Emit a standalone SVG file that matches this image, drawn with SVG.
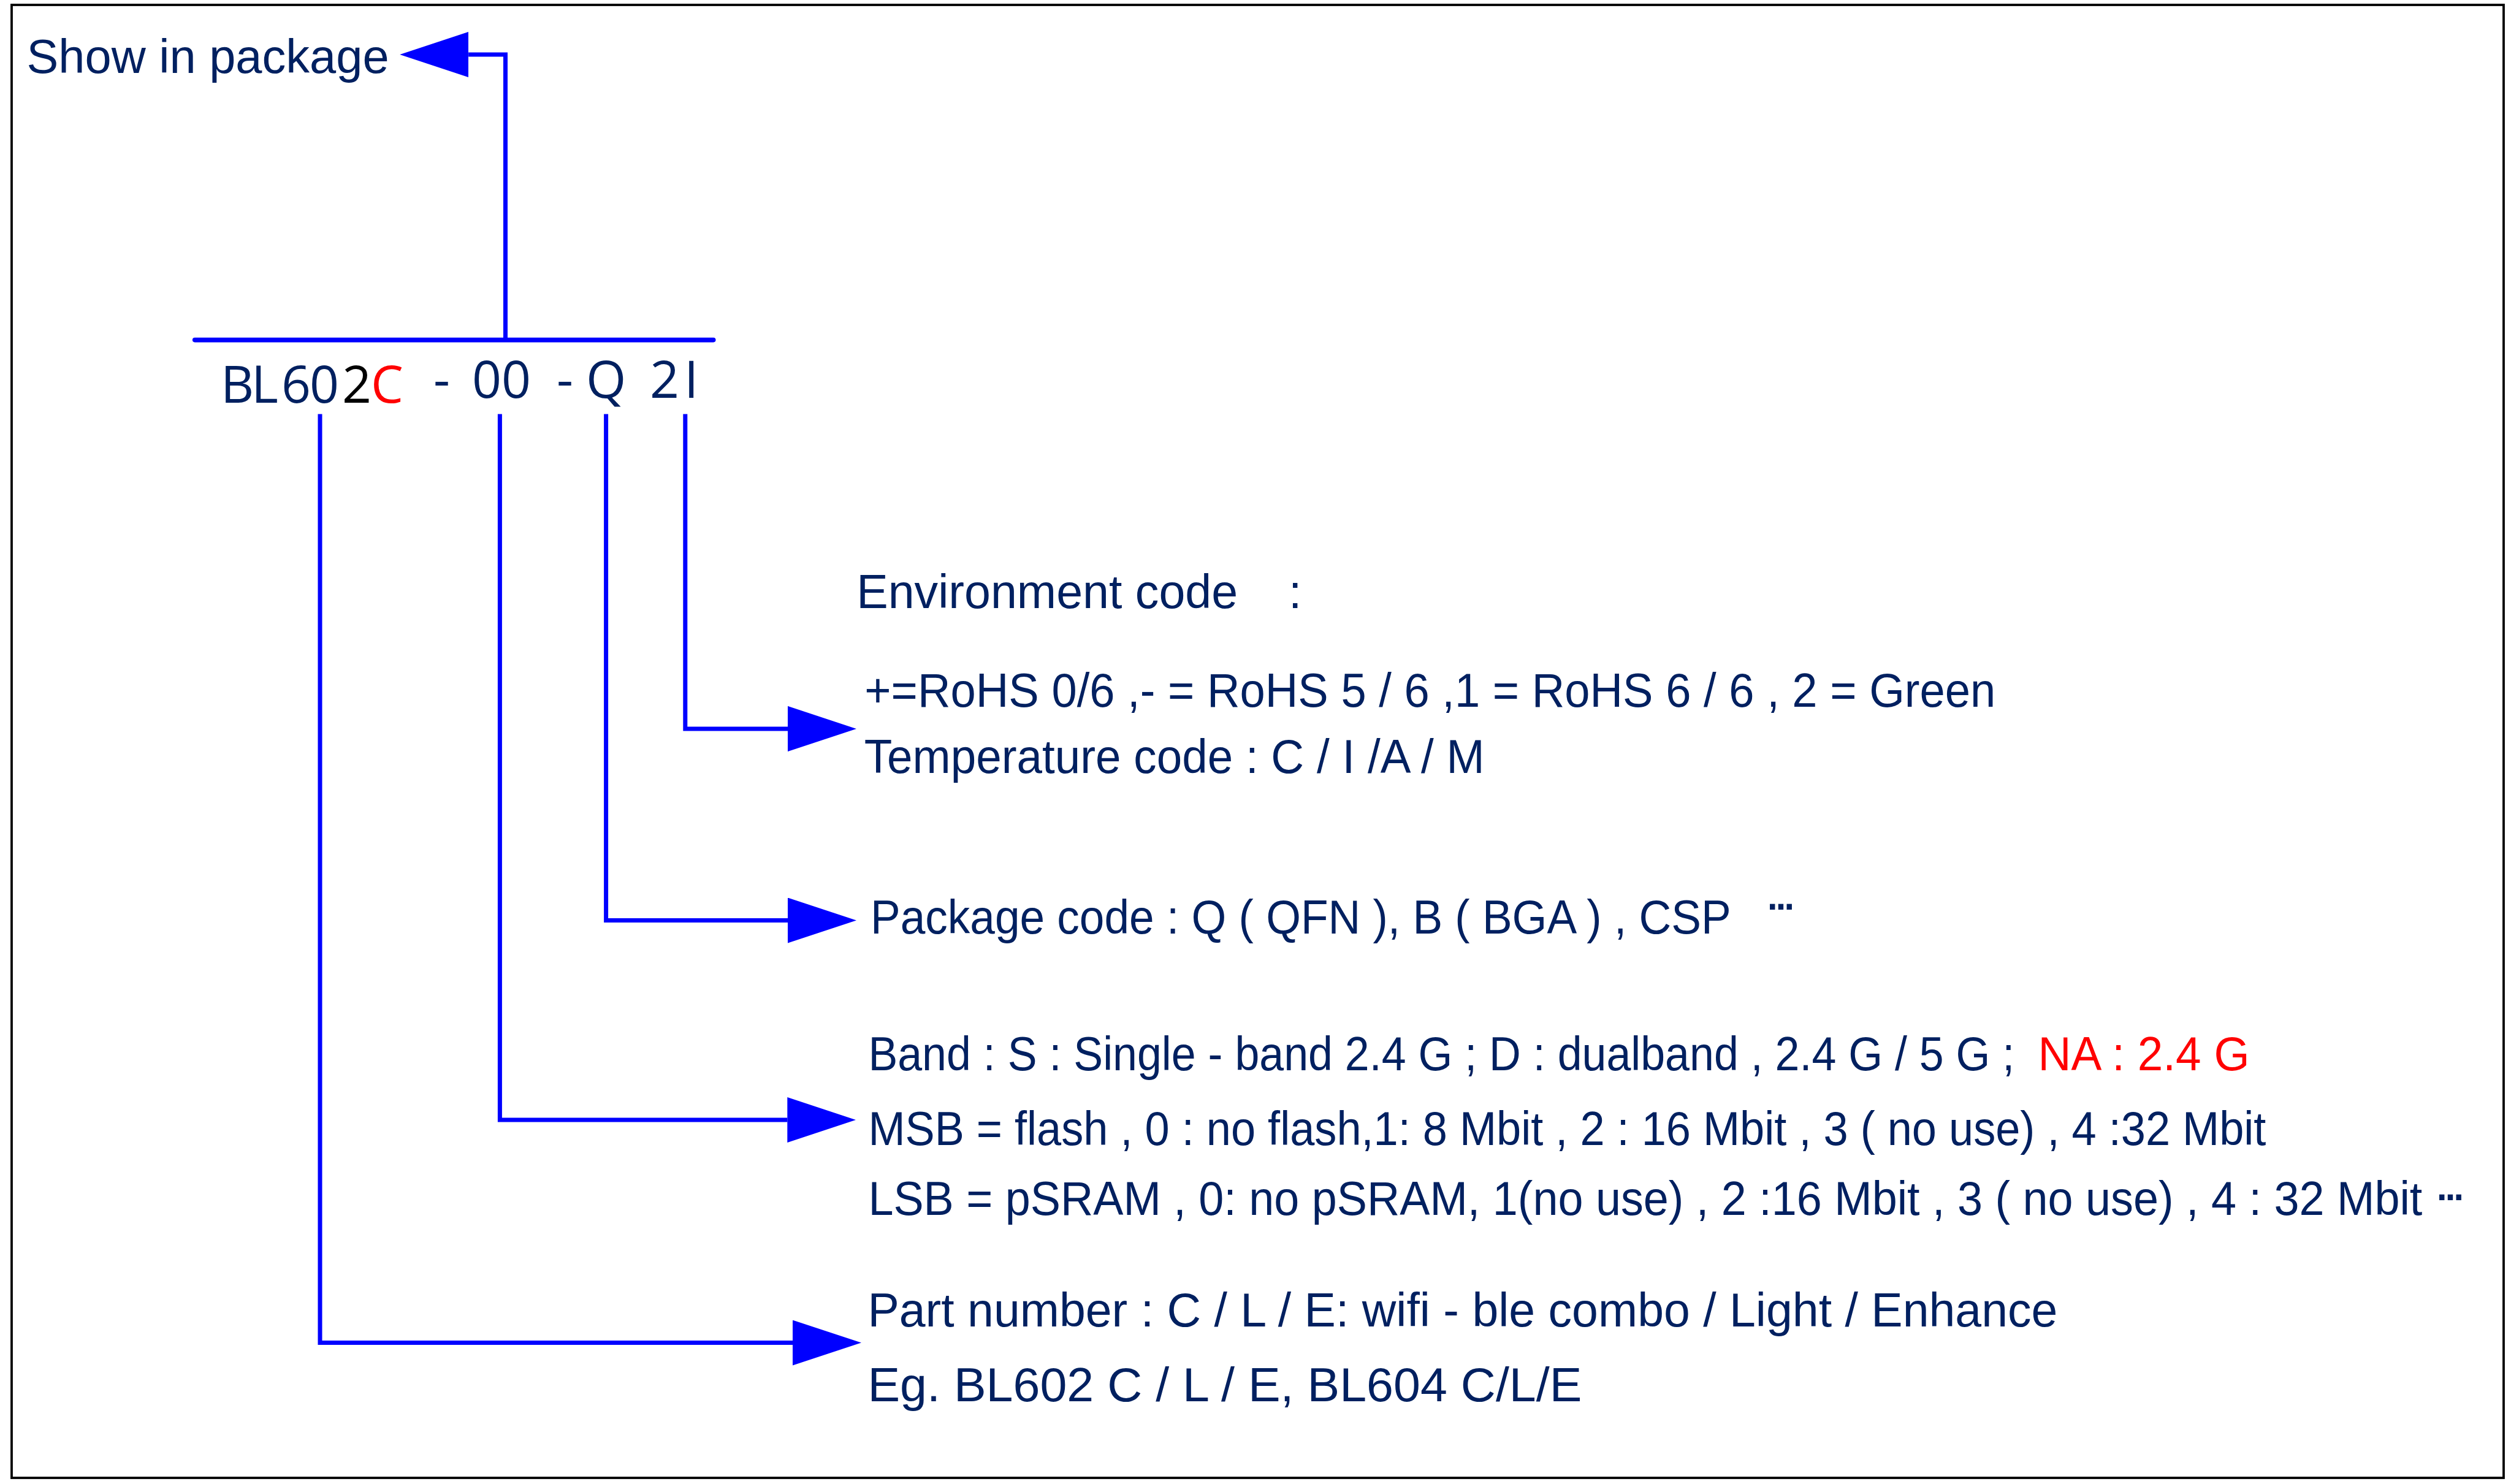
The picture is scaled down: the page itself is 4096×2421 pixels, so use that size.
<svg xmlns="http://www.w3.org/2000/svg" width="4096" height="2421" viewBox="0 0 4096 2421">
<style>
.t { font-family: "Liberation Sans", Arial, sans-serif; font-size: 77px; fill: #002060; }
.dots { font-family: "Liberation Sans", Arial, sans-serif; font-size: 88px; fill: #002060; letter-spacing: -10.7px; }
.code { font-family: "Open Sans", "Noto Sans", sans-serif; font-size: 84px; fill: #002060; }
.ln { stroke: #0000FF; stroke-width: 7; fill: none; stroke-linejoin: miter; }
.red { fill: #FF0000; }
.blk { fill: #000000; }
</style>
<defs>
<marker id="arr" markerUnits="userSpaceOnUse" markerWidth="112" markerHeight="74" refX="0" refY="37" orient="auto">
<path d="M0,0 L112,37 L0,74 z" fill="#0000FF"/>
</marker>
</defs>
<rect x="0" y="0" width="4096" height="2421" fill="#FFFFFF"/>
<rect x="19" y="8" width="4065" height="2403" fill="none" stroke="#000000" stroke-width="3.8"/>

<g id="connectors">
<line x1="317.7" y1="554.6" x2="1163.7" y2="554.6" stroke="#0000FF" stroke-width="7.6" stroke-linecap="round"/>
<path class="ln" d="M824.5 554.6 V89 H764.2" marker-end="url(#arr)"/>
<path class="ln" d="M522 675.6 V2190.6 H1293" marker-end="url(#arr)"/>
<path class="ln" d="M815.4 675.6 V1827 H1284.3" marker-end="url(#arr)"/>
<path class="ln" d="M988.6 675.6 V1501.5 H1285" marker-end="url(#arr)"/>
<path class="ln" d="M1117.8 675.6 V1188.9 H1285" marker-end="url(#arr)"/>
</g>

<g id="show-in-package">
<text class="t" x="43.6" y="118.7" textLength="591" lengthAdjust="spacingAndGlyphs">Show in package</text>
</g>

<g id="part-code">
<text class="code" y="656.5"><tspan x="360">B</tspan><tspan x="410">L</tspan><tspan x="459">6</tspan><tspan x="505">0</tspan><tspan x="558" class="blk">2</tspan><tspan x="605" class="red">C</tspan><tspan x="707" y="649">-</tspan><tspan x="770" y="649">0</tspan><tspan x="818" y="649">0</tspan><tspan x="908" y="649">-</tspan><tspan x="956" y="649">Q</tspan><tspan x="1060" y="649">2</tspan><tspan x="1116" y="649">I</tspan></text>
</g>

<g id="environment">
<text class="t" y="992.1"><tspan x="1397.2" textLength="622" lengthAdjust="spacingAndGlyphs">Environment code</tspan><tspan x="2102">:</tspan></text>
<text class="t" x="1410.3" y="1153.2" textLength="1845" lengthAdjust="spacingAndGlyphs">+=RoHS 0/6 ,- = RoHS 5 / 6 ,1 = RoHS 6 / 6 , 2 = Green</text>
<text class="t" x="1409.7" y="1261" textLength="1012" lengthAdjust="spacingAndGlyphs">Temperature code : C / I /A / M</text>
</g>

<g id="package">
<text class="t" transform="translate(1420,1523.3) scale(0.932,1)" x="0" y="0" textLength="1506" lengthAdjust="spacingAndGlyphs">Package code : Q ( QFN ),  B ( BGA ) , CSP</text>
<text class="dots" x="2879" y="1483.8">...</text>
</g>

<g id="band">
<text class="t" transform="translate(1416.4,1745.6) scale(0.922,1)" x="0" y="0" textLength="2028" lengthAdjust="spacingAndGlyphs">Band : S : Single - band 2.4 G ; D : dualband , 2.4 G / 5 G ;</text>
<text class="t red" x="3324.6" y="1745.6" textLength="345" lengthAdjust="spacingAndGlyphs">NA : 2.4 G</text>
<text class="t" x="1416.4" y="1867.8" textLength="2280" lengthAdjust="spacingAndGlyphs">MSB = flash , 0 : no flash,1: 8 Mbit , 2 : 16 Mbit ,  3 ( no use) , 4 :32 Mbit</text>
<text class="t" transform="translate(1416.4,1981.7) scale(0.958,1)" x="0" y="0" textLength="2646" lengthAdjust="spacingAndGlyphs">LSB = pSRAM , 0: no pSRAM, 1(no use) , 2 :16 Mbit , 3 ( no use) , 4 : 32 Mbit</text>
<text class="dots" x="3971" y="1958.2">...</text>
</g>

<g id="part-number">
<text class="t" x="1415.4" y="2164.4" textLength="1941" lengthAdjust="spacingAndGlyphs">Part number :  C / L / E: wifi - ble combo / Light / Enhance</text>
<text class="t" x="1415.4" y="2286.3" textLength="1165" lengthAdjust="spacingAndGlyphs">Eg. BL602 C / L / E, BL604 C/L/E</text>
</g>
</svg>
